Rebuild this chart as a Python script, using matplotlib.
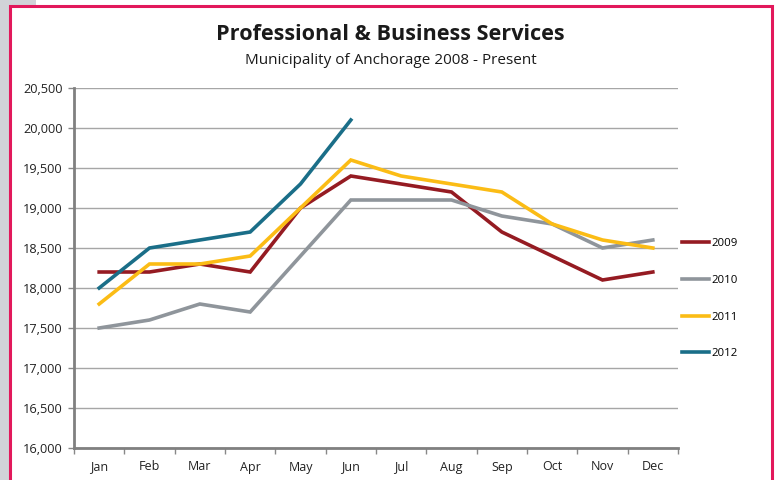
import matplotlib.pyplot as plt
from matplotlib.patches import Rectangle
from matplotlib.ticker import FuncFormatter

# dados
meses = ['Jan', 'Feb', 'Mar', 'Apr', 'May', 'Jun', 'Jul', 'Aug', 'Sep', 'Oct', 'Nov', 'Dec']
v2009 = [18200, 18200, 18300, 18200, 19000, 19400, 19300, 19200, 18700, 18400, 18100, 18200]
v2010 = [17500, 17600, 17800, 17700, 18400, 19100, 19100, 19100, 18900, 18800, 18500, 18600]
v2011 = [17800, 18300, 18300, 18400, 19000, 19600, 19400, 19300, 19200, 18800, 18600, 18500]
v2012 = [18000, 18500, 18600, 18700, 19300, 20100]

series = [('2009', v2009, '#951b22'),
          ('2010', v2010, '#8f959b'),
          ('2011', v2011, '#fbbc15'),
          ('2012', v2012, '#1a6e88')]

plt.rcParams['font.family'] = ['Open Sans', 'DejaVu Sans']

fig = plt.figure(figsize=(7.76, 4.8), dpi=100)

# fundo cinza e moldura rosa
fig.patches.append(Rectangle((0, 0), 36 / 776, 1, transform=fig.transFigure,
                             facecolor='#d1d3d8', edgecolor='none', zorder=0))
fig.patches.append(Rectangle((10 / 776, -0.05), 762 / 776, 1.05 - 6 / 480,
                             transform=fig.transFigure, facecolor='white',
                             edgecolor='#e2185b', linewidth=2.2, zorder=1))

ax = fig.add_axes([74 / 776, 32 / 480, 604 / 776, 360 / 480])
ax.set_facecolor('none')
ax.set_zorder(2)

x = list(range(len(meses)))
for nome, vals, cor in series:
    ax.plot(x[:len(vals)], vals, color=cor, linewidth=2.6, label=nome,
            solid_joinstyle='miter')

ax.set_xlim(-0.5, 11.5)
ax.set_ylim(16000, 20500)
ax.set_yticks(range(16000, 20501, 500))
ax.yaxis.set_major_formatter(FuncFormatter(lambda v, p: '{:,.0f}'.format(v)))
ax.set_xticks(x)
ax.set_xticklabels(meses)
ax.set_xticks([i - 0.5 for i in range(13)], minor=True)
ax.tick_params(axis='x', which='major', length=0, pad=9, labelsize=9, colors='#222222')
ax.tick_params(axis='x', which='minor', length=4, color='#888888', width=1)
ax.tick_params(axis='y', length=4, color='#888888', width=1, pad=4, labelsize=9.2,
               labelcolor='#222222')

ax.grid(axis='y', color='#a6a6a6', linewidth=1)
ax.set_axisbelow(True)
for s in ['top', 'right']:
    ax.spines[s].set_visible(False)
for s in ['left', 'bottom']:
    ax.spines[s].set_color('#808080')
    ax.spines[s].set_linewidth(2)

leg = ax.legend(loc='upper left', bbox_to_anchor=(603 / 604, 0.595), frameon=False,
                fontsize=8.2, handlelength=2.4, handletextpad=0.2, labelspacing=2.25,
                borderaxespad=0)

fig.text(390 / 776, 1 - 34 / 480, 'Professional & Business Services', ha='center',
         va='center', fontsize=15.6, fontweight='bold', color='#1a1a1a')
fig.text(391 / 776, 1 - 60 / 480, 'Municipality of Anchorage 2008 - Present', ha='center',
         va='center', fontsize=11, color='#1a1a1a')

fig.savefig('out.png', dpi=100)
